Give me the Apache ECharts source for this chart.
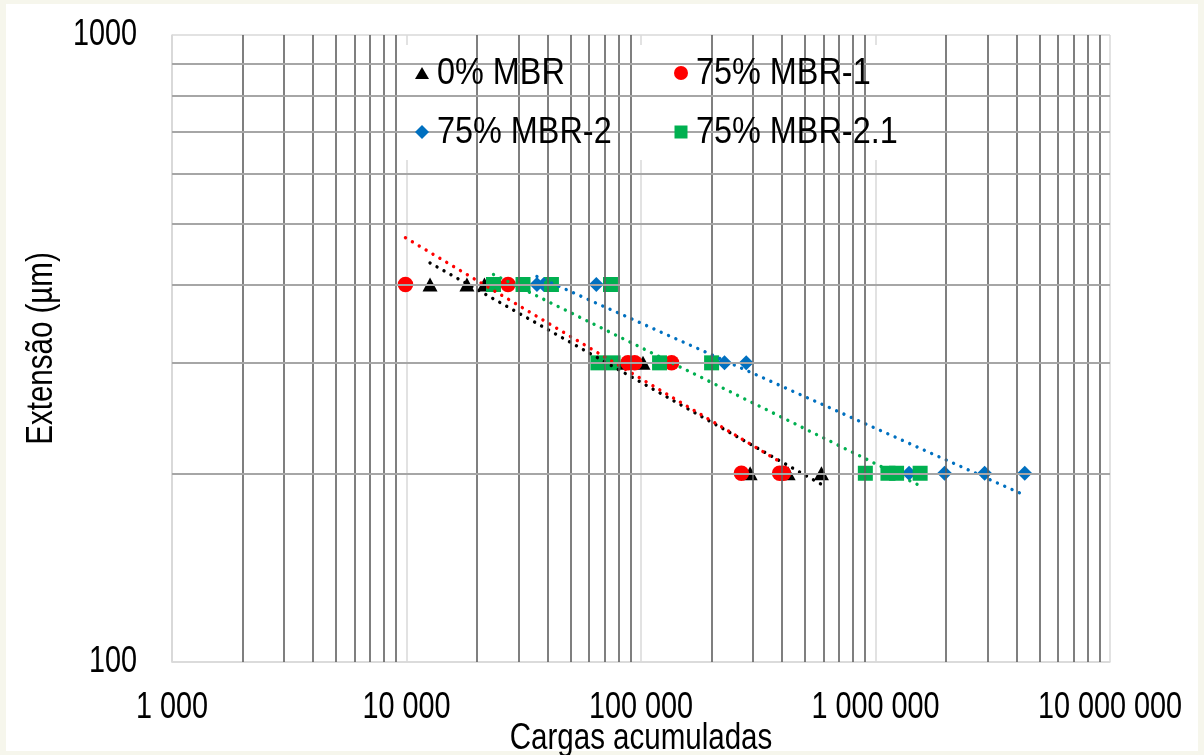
<!DOCTYPE html>
<html>
<head>
<meta charset="utf-8">
<script src="https://cdn.jsdelivr.net/npm/echarts@6/dist/echarts.min.js"></script>
<style>
  html, body { margin: 0; padding: 0; background: #f6f6ec; overflow: hidden; }
  #frame { position: absolute; left: 6px; top: 4px; width: 1192px; height: 747px; background: #ffffff; }
  #chart { position: absolute; left: 0; top: 0; width: 1204px; height: 755px; }
</style>
</head>
<body>
<div id="frame"></div>
<div id="chart"></div>
<script>
// Accumulated loads (x) vs. strain level (y) for each mix
const mbr0    = [[12600,400],[18100,400],[21500,400],[85000,300],[102000,300],[292000,200],[424000,200],[588000,200]];
const mbr75_1 = [[9900,400],[27100,400],[88000,300],[94000,300],[135000,300],[268000,200],[390000,200],[405000,200]];
const mbr75_2 = [[36000,400],[38500,400],[64500,400],[227000,300],[281000,300],[1390000,200],[1970000,200],[2920000,200],[4330000,200]];
const mbr75_21 = [[23500,400],[31400,400],[41500,400],[74100,400],[65500,300],[76000,300],[120000,300],[200000,300],[905000,200],[1130000,200],[1230000,200],[1550000,200]];

// Power trend lines (straight on log-log axes): start and end points
const trend0    = [[12600,433],[588000,192]];
const trend75_1 = [[9900,475],[405000,207]];
const trend75_2 = [[36000,412],[4330000,184.5]];
const trend75_21 = [[23500,415],[1550000,191]];

const seriesNames = ['0% MBR','75% MBR-1','75% MBR-2','75% MBR-2.1'];
const colors = ['#000000','#ff0000','#0070c0','#00b050'];

// Tick labels
const xTickValues = [1000, 10000, 100000, 1000000, 10000000];
const yTickValues = [100, 1000];
const xTitle = 'Cargas acumuladas';
const yTitle = 'Extensão (µm)';

// Minor grid values
const xMinor = [];
[1000,10000,100000,1000000].forEach(d => { for (let k = 2; k <= 9; k++) xMinor.push(d * k); });
const yMinor = [200,300,400,500,600,700,800,900];

const FONT = '"Liberation Sans", Arial, sans-serif';
const NARROW = 0.8;   // condensed text look

function spaced(v) {
  return String(Math.round(v)).replace(/\B(?=(\d{3})+(?!\d))/g, ' ');
}

const chart = echarts.init(document.getElementById('chart'), null, { renderer: 'canvas' });

const dotted = { width: 3.4, type: [0.01, 8], cap: 'round' };

const option = {
  backgroundColor: 'transparent',
  animation: false,
  grid: { left: 172, right: 94, top: 35, bottom: 93, containLabel: false, outerBoundsMode: 'none' },
  xAxis: {
    type: 'log', logBase: 10, min: 1000, max: 10000000,
    axisLine: { show: true, lineStyle: { color: '#d9d9d9', width: 1.5 } },
    axisTick: { show: false },
    axisLabel: { show: false },
    splitLine: { show: true, lineStyle: { color: '#d9d9d9', width: 1.5 } }
  },
  yAxis: {
    type: 'log', logBase: 10, min: 100, max: 1000,
    axisLine: { show: true, lineStyle: { color: '#d9d9d9', width: 1.5 } },
    axisTick: { show: false },
    axisLabel: { show: false },
    splitLine: { show: true, lineStyle: { color: '#d9d9d9', width: 1.5 } }
  },
  series: [
    {
      name: 'grid', type: 'line', data: [], z: 1, silent: true,
      markLine: {
        silent: true, symbol: 'none', animation: false,
        label: { show: false },
        data: [
          ...xMinor.map(v => ({ xAxis: v, lineStyle: { color: '#5f5f5f', width: 1.6, type: 'solid' } })),
          ...yMinor.map(v => ({ yAxis: v, lineStyle: { color: '#a6a6a6', width: 2, type: 'solid' } }))
        ]
      }
    },
    { name: seriesNames[0], type: 'scatter', data: mbr0, symbol: 'triangle', symbolSize: [15, 14], itemStyle: { color: colors[0], opacity: 1 }, z: 3 },
    { name: seriesNames[1], type: 'scatter', data: mbr75_1, symbol: 'circle', symbolSize: 15.5, itemStyle: { color: colors[1], opacity: 1 }, z: 3 },
    { name: seriesNames[2], type: 'scatter', data: mbr75_2, symbol: 'diamond', symbolSize: 15, itemStyle: { color: colors[2], opacity: 1 }, z: 3 },
    { name: seriesNames[3], type: 'scatter', data: mbr75_21, symbol: 'rect', symbolSize: 15, itemStyle: { color: colors[3], opacity: 1 }, z: 3 },
    { name: 't0', type: 'line', data: trend0, symbol: 'none', lineStyle: Object.assign({ color: colors[0] }, dotted), z: 4, silent: true },
    { name: 't1', type: 'line', data: trend75_1, symbol: 'none', lineStyle: Object.assign({ color: colors[1] }, dotted), z: 4, silent: true },
    { name: 't2', type: 'line', data: trend75_2, symbol: 'none', lineStyle: Object.assign({ color: colors[2] }, dotted), z: 4, silent: true },
    { name: 't3', type: 'line', data: trend75_21, symbol: 'none', lineStyle: Object.assign({ color: colors[3] }, dotted), z: 4, silent: true }
  ]
};

chart.setOption(option);

// Condensed text drawn at positions taken from the axes' scales
function label(text, x, y, opts) {
  opts = opts || {};
  return {
    type: 'text', x: x, y: y, z: 10, silent: true,
    rotation: opts.rotation || 0,
    scaleX: opts.scaleX || NARROW,
    style: {
      text: text, fill: '#000',
      font: (opts.size || 36) + 'px ' + FONT,
      align: opts.align || 'center', verticalAlign: 'middle'
    }
  };
}

const gridRect = chart.getModel().getComponent('grid').coordinateSystem.getRect();
const graphics = [];

// Legend backdrop
graphics.push({ type: 'rect', shape: { x: 377, y: 45, width: 547, height: 115 }, style: { fill: '#ffffff' }, z: 2, silent: true });

// X tick labels
xTickValues.forEach(v => {
  const p = chart.convertToPixel({ xAxisIndex: 0 }, v);
  graphics.push(label(spaced(v), p, gridRect.y + gridRect.height + 46));
});
// Y tick labels
yTickValues.forEach(v => {
  const p = chart.convertToPixel({ yAxisIndex: 0 }, v);
  graphics.push(label(String(v), gridRect.x - 35, p, { align: 'right' }));
});
// Axis titles
graphics.push(label(xTitle, gridRect.x + gridRect.width / 2, gridRect.y + gridRect.height + 77, { scaleX: 0.82 }));
graphics.push(label(yTitle, 42, gridRect.y + gridRect.height / 2, { rotation: Math.PI / 2, scaleX: 0.82 }));

// Legend (two columns, two rows)
const legendCells = [
  { name: seriesNames[0], cx: 422, cy: 73, shape: 'triangle', color: colors[0] },
  { name: seriesNames[1], cx: 681, cy: 73, shape: 'circle', color: colors[1] },
  { name: seriesNames[2], cx: 422, cy: 132, shape: 'diamond', color: colors[2] },
  { name: seriesNames[3], cx: 681, cy: 132, shape: 'rect', color: colors[3] }
];
legendCells.forEach(c => {
  const r = 7;
  let icon;
  if (c.shape === 'triangle') {
    icon = { type: 'polygon', shape: { points: [[c.cx - r, c.cy + r - 1], [c.cx + r, c.cy + r - 1], [c.cx, c.cy - r + 1]] } };
  } else if (c.shape === 'circle') {
    icon = { type: 'circle', shape: { cx: c.cx, cy: c.cy, r: r } };
  } else if (c.shape === 'diamond') {
    icon = { type: 'polygon', shape: { points: [[c.cx, c.cy - r], [c.cx + r, c.cy], [c.cx, c.cy + r], [c.cx - r, c.cy]] } };
  } else {
    icon = { type: 'rect', shape: { x: c.cx - r + 0.5, y: c.cy - r + 0.5, width: 2 * r - 1, height: 2 * r - 1 } };
  }
  icon.style = { fill: c.color };
  icon.z = 10;
  icon.silent = true;
  graphics.push(icon);
  graphics.push(label(c.name, c.cx + 15, c.cy + 1, { align: 'left', size: 36, scaleX: 0.9 }));
});

chart.setOption({ graphic: graphics });
</script>
</body>
</html>
